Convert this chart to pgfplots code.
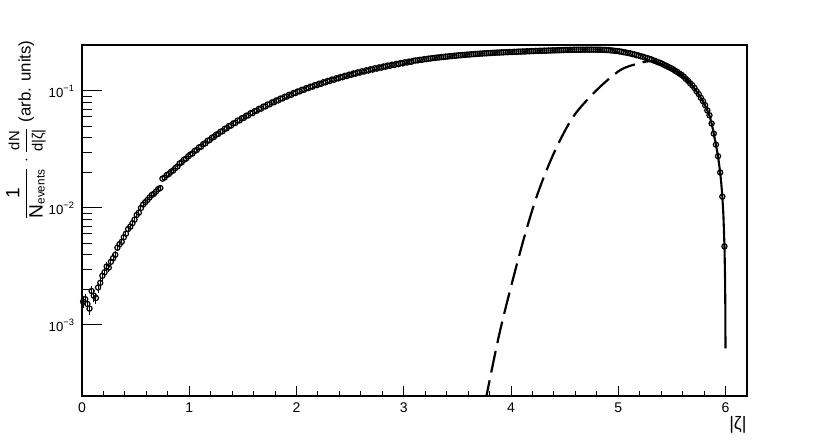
\documentclass[border=0pt]{standalone}
\usepackage{fontspec}
\setmainfont{Liberation Sans}
\usepackage{amsmath}
\usepackage{pgfplots}
\usepackage{pgfplotstable}
\pgfplotsset{compat=1.18}

% measured distribution, 0.02 wide bins
\pgfplotstableread{
x y ey
0.01 1.58e-3 1.87e-4
0.03 1.66e-3 1.91e-4
0.05 1.51e-3 1.83e-4
0.07 1.38e-3 1.75e-4
0.09 1.95e-3 2.08e-4
0.11 1.78e-3 1.98e-4
0.13 1.70e-3 1.94e-4
0.15 2.09e-3 2.15e-4
0.17 2.29e-3 2.25e-4
0.19 2.63e-3 2.41e-4
0.21 2.82e-3 2.50e-4
0.23 3.16e-3 2.64e-4
0.25 3.09e-3 2.61e-4
0.27 3.47e-3 2.77e-4
0.29 3.72e-3 2.87e-4
0.31 3.98e-3 2.97e-4
0.33 4.57e-3 3.18e-4
0.35 4.90e-3 3.29e-4
0.37 5.13e-3 3.37e-4
0.39 5.62e-3 3.52e-4
0.41 6.03e-3 3.65e-4
0.43 6.61e-3 3.82e-4
0.45 6.92e-3 3.91e-4
0.47 7.41e-3 4.05e-4
0.49 7.94e-3 4.19e-4
0.51 8.71e-3 4.39e-4
0.53 9.12e-3 4.49e-4
0.55 1.00e-2 4.70e-4
0.57 1.07e-2 4.86e-4
0.59 1.12e-2 4.97e-4
0.61 1.17e-2 5.08e-4
0.63 1.23e-2 5.21e-4
0.65 1.29e-2 5.34e-4
0.67 1.32e-2 5.40e-4
0.69 1.38e-2 5.52e-4
0.71 1.45e-2 5.66e-4
0.73 1.48e-2 5.72e-4
0.75 1.78e-2 6.27e-4
0.77 1.82e-2 6.34e-4
0.79 1.91e-2 6.50e-4
0.81 1.95e-2 6.56e-4
0.83 2.04e-2 6.71e-4
0.85 2.09e-2 6.79e-4
0.87 2.19e-2 6.96e-4
0.89 2.26e-2 7.07e-4
0.91 0.0240 7.4e-4
0.93 0.0246 7.4e-4
0.95 0.0258 7.4e-4
0.97 0.0264 7.4e-4
0.99 0.0276 7.4e-4
1.01 0.0286 8.5e-4
1.03 0.0292 8.5e-4
1.05 0.0307 8.5e-4
1.07 0.0313 8.5e-4
1.09 0.0329 8.5e-4
1.11 0.0334 8.5e-4
1.13 0.0351 8.5e-4
1.15 0.0357 8.5e-4
1.17 0.0375 8.5e-4
1.19 0.0380 8.5e-4
1.21 0.0398 1.0e-3
1.23 0.0404 1.0e-3
1.25 0.0423 1.0e-3
1.27 0.0429 1.0e-3
1.29 0.0448 1.0e-3
1.31 0.0453 1.0e-3
1.33 0.0474 1.0e-3
1.35 0.0480 1.0e-3
1.37 0.0502 1.0e-3
1.39 0.0506 1.0e-3
1.41 0.0528 1.1e-3
1.43 0.0533 1.1e-3
1.45 0.0557 1.1e-3
1.47 0.0561 1.1e-3
1.49 0.0585 1.1e-3
1.51 0.0589 1.15e-3
1.53 0.0614 1.15e-3
1.55 0.0618 1.15e-3
1.57 0.0644 1.15e-3
1.59 0.0647 1.15e-3
1.61 0.0673 1.25e-3
1.63 0.0677 1.25e-3
1.65 0.0704 1.25e-3
1.67 0.0707 1.25e-3
1.69 0.0735 1.25e-3
1.71 0.0738 1.3e-3
1.73 0.0766 1.3e-3
1.75 0.0769 1.3e-3
1.77 0.0798 1.3e-3
1.79 0.0800 1.3e-3
1.81 0.0829 1.4e-3
1.83 0.0831 1.4e-3
1.85 0.0861 1.4e-3
1.87 0.0863 1.4e-3
1.89 0.0893 1.4e-3
1.91 0.0895 1.45e-3
1.93 0.0926 1.45e-3
1.95 0.0926 1.45e-3
1.97 0.0958 1.45e-3
1.99 0.0959 1.45e-3
2.01 0.0990 1.5e-3
2.03 0.0991 1.5e-3
2.05 0.1024 1.5e-3
2.07 0.1023 1.5e-3
2.09 0.1056 1.5e-3
2.11 0.1058 1.55e-3
2.13 0.1088 1.55e-3
2.15 0.1088 1.55e-3
2.17 0.1121 1.55e-3
2.19 0.1120 1.55e-3
2.21 0.1153 1.6e-3
2.23 0.1151 1.6e-3
2.25 0.1187 1.6e-3
2.27 0.1184 1.6e-3
2.29 0.1219 1.6e-3
2.31 0.1216 1.65e-3
2.33 0.1252 1.65e-3
2.35 0.1247 1.65e-3
2.37 0.1284 1.65e-3
2.39 0.1280 1.65e-3
2.41 0.1316 1.7e-3
2.43 0.1310 1.7e-3
2.45 0.1348 1.7e-3
2.47 0.1342 1.7e-3
2.49 0.1379 1.7e-3
2.51 0.1373 1.75e-3
2.53 0.1411 1.75e-3
2.55 0.1404 1.75e-3
2.57 0.1442 1.75e-3
2.59 0.1434 1.75e-3
2.61 0.1473 1.8e-3
2.63 0.1465 1.8e-3
2.65 0.1503 1.8e-3
2.67 0.1494 1.8e-3
2.69 0.1533 1.8e-3
2.71 0.1523 1.85e-3
2.73 0.1562 1.85e-3
2.75 0.1553 1.85e-3
2.77 0.1591 1.85e-3
2.79 0.1582 1.85e-3
2.81 0.1620 1.9e-3
2.83 0.1611 1.9e-3
2.85 0.1649 1.9e-3
2.87 0.1640 1.9e-3
2.89 0.1677 1.9e-3
2.91 0.1667 1.95e-3
2.93 0.1704 1.95e-3
2.95 0.1695 1.95e-3
2.97 0.1732 1.95e-3
2.99 0.1722 1.95e-3
3.01 0.1759 2.0e-3
3.03 0.1749 2.0e-3
3.05 0.1785 2.0e-3
3.07 0.1775 2.0e-3
3.09 0.1811 2.0e-3
3.11 0.1822 2.1e-3
3.13 0.1825 2.1e-3
3.15 0.1846 2.1e-3
3.17 0.1848 2.1e-3
3.19 0.1869 2.1e-3
3.21 0.1872 2.1e-3
3.23 0.1890 2.1e-3
3.25 0.1894 2.1e-3
3.27 0.1911 2.1e-3
3.29 0.1915 2.1e-3
3.31 0.1931 2.1e-3
3.33 0.1934 2.1e-3
3.35 0.1950 2.1e-3
3.37 0.1952 2.1e-3
3.39 0.1968 2.1e-3
3.41 0.1969 2.1e-3
3.43 0.1985 2.1e-3
3.45 0.1986 2.1e-3
3.47 0.2001 2.1e-3
3.49 0.2003 2.1e-3
3.51 0.2017 2.1e-3
3.53 0.2018 2.1e-3
3.55 0.2032 2.1e-3
3.57 0.2032 2.1e-3
3.59 0.2046 2.1e-3
3.61 0.2046 2.1e-3
3.63 0.2060 2.1e-3
3.65 0.2060 2.1e-3
3.67 0.2074 2.1e-3
3.69 0.2074 2.1e-3
3.71 0.2086 2.1e-3
3.73 0.2086 2.1e-3
3.75 0.2099 2.1e-3
3.77 0.2097 2.1e-3
3.79 0.2110 2.1e-3
3.81 0.2108 2.1e-3
3.83 0.2120 2.1e-3
3.85 0.2118 2.1e-3
3.87 0.2130 2.1e-3
3.89 0.2128 2.1e-3
3.91 0.2138 2.1e-3
3.93 0.2136 2.1e-3
3.95 0.2147 2.1e-3
3.97 0.2144 2.1e-3
3.99 0.2155 2.1e-3
4.01 0.2152 2.2e-3
4.03 0.2162 2.2e-3
4.05 0.2159 2.2e-3
4.07 0.2171 2.2e-3
4.09 0.2168 2.2e-3
4.11 0.2176 2.2e-3
4.13 0.2173 2.2e-3
4.15 0.2186 2.2e-3
4.17 0.2183 2.2e-3
4.19 0.2195 2.2e-3
4.21 0.2191 2.2e-3
4.23 0.2199 2.2e-3
4.25 0.2197 2.2e-3
4.27 0.2207 2.2e-3
4.29 0.2203 2.2e-3
4.31 0.2212 2.2e-3
4.33 0.2209 2.2e-3
4.35 0.2219 2.2e-3
4.37 0.2216 2.2e-3
4.39 0.2225 2.2e-3
4.41 0.2221 2.2e-3
4.43 0.2230 2.2e-3
4.45 0.2228 2.2e-3
4.47 0.2237 2.2e-3
4.49 0.2234 2.2e-3
4.51 0.2243 2.2e-3
4.53 0.2240 2.2e-3
4.55 0.2248 2.2e-3
4.57 0.2244 2.2e-3
4.59 0.2252 2.2e-3
4.61 0.2247 2.2e-3
4.63 0.2254 2.2e-3
4.65 0.2249 2.2e-3
4.67 0.2256 2.2e-3
4.69 0.2251 2.2e-3
4.71 0.2258 2.2e-3
4.73 0.2250 2.2e-3
4.75 0.2257 2.2e-3
4.77 0.2252 2.2e-3
4.79 0.2256 2.2e-3
4.81 0.2251 2.2e-3
4.83 0.2254 2.2e-3
4.85 0.2244 2.2e-3
4.87 0.2246 2.2e-3
4.89 0.2237 2.2e-3
4.91 0.2237 2.2e-3
4.93 0.2221 2.2e-3
4.95 0.2216 2.2e-3
4.97 0.2200 2.2e-3
4.99 0.2195 2.2e-3
5.01 0.2177 2.2e-3
5.03 0.2166 2.2e-3
5.05 0.2143 2.2e-3
5.07 0.2132 2.2e-3
5.09 0.2109 2.2e-3
5.11 0.2097 2.2e-3
5.13 0.2068 2.2e-3
5.15 0.2053 2.2e-3
5.17 0.2024 2.2e-3
5.19 0.2009 2.2e-3
5.21 0.1979 1.94e-3
5.23 0.1961 1.94e-3
5.25 0.1929 1.94e-3
5.27 0.1911 1.94e-3
5.29 0.1879 1.94e-3
5.31 0.1858 1.94e-3
5.33 0.1821 1.94e-3
5.35 0.1797 1.94e-3
5.37 0.1761 1.94e-3
5.39 0.1736 1.94e-3
5.41 0.1704 1.94e-3
5.43 0.1664 1.94e-3
5.45 0.1637 1.94e-3
5.47 0.1597 1.94e-3
5.49 0.1569 1.94e-3
5.51 0.1532 1.94e-3
5.53 0.1486 1.94e-3
5.55 0.1452 1.94e-3
5.57 0.1406 1.94e-3
5.59 0.1372 1.94e-3
5.61 0.1326 1.5e-3
5.63 0.1268 1.5e-3
5.65 0.1222 1.5e-3
5.67 0.1164 1.5e-3
5.69 0.1118 1.5e-3
5.71 0.1062 1.5e-3
5.73 0.0995 1.5e-3
5.75 0.0940 1.5e-3
5.77 0.0873 1.5e-3
5.79 0.0818 1.5e-3
5.81 0.0755 1.29e-3
5.83 0.0682 1.23e-3
5.85 0.0620 1.17e-3
5.87 0.0527 1.08e-3
5.89 0.0432 9.8e-4
5.91 0.0348 8.8e-4
5.93 0.0277 7.8e-4
5.95 0.0201 6.7e-4
5.97 0.0125 5.3e-4
5.99 0.0047 3.2e-4
}\datatable

% dashed component
\pgfplotstableread{
x y
3.76 2.2e-4
3.90 9.1e-4
4.09 4.37e-3
4.24 1.26e-2
4.40 2.95e-2
4.58 6.03e-2
4.80 0.102
5.02 0.151
5.21 0.174
5.30 0.180
5.36 0.178
}\dashcurve

% solid curve
\pgfplotstableread{
x y
5.30 0.1810
5.35 0.1770
5.40 0.1705
5.45 0.1625
5.50 0.1540
5.55 0.1450
5.60 0.1345
5.65 0.1220
5.70 0.1085
5.75 0.0935
5.80 0.0785
5.83 0.0683
5.85 0.0617
5.87 0.0530
5.89 0.0432
5.91 0.0348
5.93 0.0277
5.95 0.0201
5.96 0.0163
5.97 0.0125
5.98 0.0087
5.99 0.0047
5.995 0.0027
5.998 0.0014
5.9995 0.00063
}\solidcurve

\begin{document}
\begin{tikzpicture}
\path[use as bounding box] (-41pt,-22pt) rectangle (374pt,198pt);
\begin{axis}[
    scale only axis,
    width=332.5pt, height=175.5pt,
    at={(0pt,0pt)}, anchor=south west,
    xmin=0, xmax=6.2,
    ymode=log, ymin=2.47e-4, ymax=0.247,
    axis line style={line width=0.6pt},
    tick align=inside,
    xtick pos=left, ytick pos=left,
    xtick={0,1,2,3,4,5,6}, minor x tick num=4,
    ytick={1e-3,1e-2,1e-1},
    yticklabels={10\textsuperscript{−3},10\textsuperscript{−2},10\textsuperscript{−1}},
    xtick style={black, line width=0.5pt, /pgfplots/major tick length=5pt, /pgfplots/minor tick length=2.5pt},
    ytick style={black, line width=0.5pt, /pgfplots/major tick length=10pt, /pgfplots/minor tick length=5pt},
    /pgf/number format/assume math mode=true,
    ticklabel style={font=\fontsize{7}{8}\selectfont},
    yticklabel style={font=\fontsize{6.6}{8}\selectfont},
    clip marker paths=false,
]
\addplot[only marks, mark=o, mark size=1.3pt, mark options={line width=0.6pt},
    error bars/.cd, y dir=both, y explicit, error mark=none,
    error bar style={line width=0.5pt}]
    table[x=x, y=y, y error=ey]{\datatable};
\addplot[no marks, line width=1.1pt, dash pattern=on 11pt off 4pt, smooth] table[x=x, y=y]{\dashcurve};
\addplot[no marks, line width=1.05pt] table[x=x, y=y]{\solidcurve};
\end{axis}
\node[rotate=90, anchor=east, font=\fontsize{8.4}{10}\selectfont, inner sep=0pt]
    at (-28pt,178pt) {$\dfrac{\text{\fontsize{9.6}{10}\selectfont 1}}{\text{\fontsize{9.6}{10}\selectfont N}_{\text{events}}}\cdot\dfrac{\text{\fontsize{7.4}{8}\selectfont dN}}{\text{\fontsize{7.4}{8}\selectfont d|ζ|}}$ (arb. units)};
\node[anchor=north east, font=\fontsize{9}{10}\selectfont, inner sep=0pt]
    at (332.5pt,-10pt) {|ζ|};
\end{tikzpicture}
\end{document}
